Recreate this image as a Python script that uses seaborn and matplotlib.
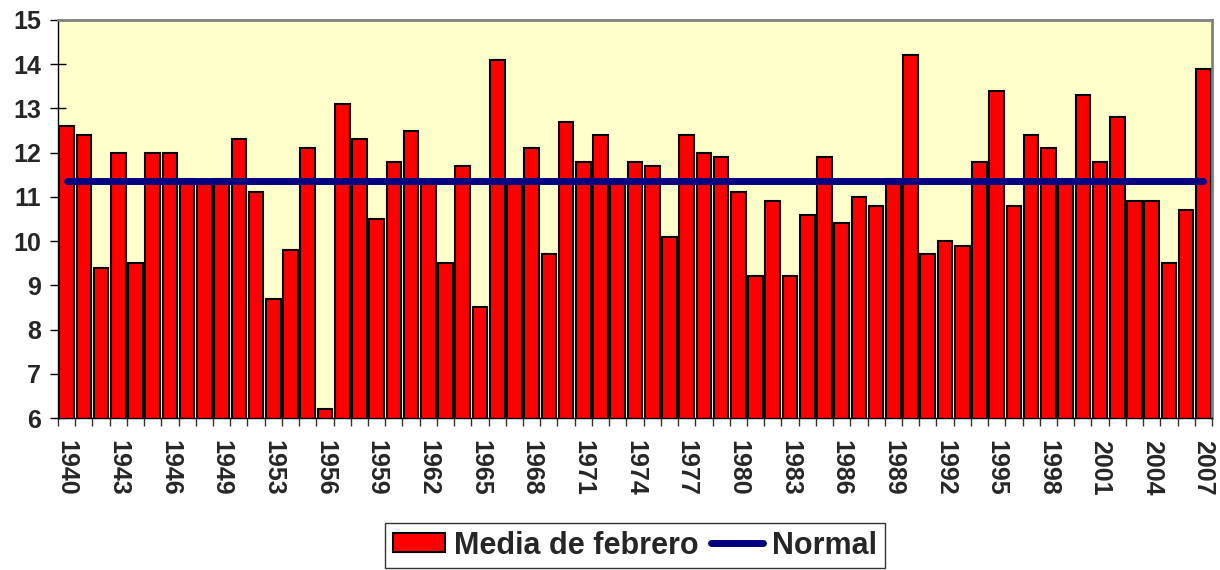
import seaborn as sns
import matplotlib.pyplot as plt
import pandas as pd

# February mean temperature per year (one year missing between 1949 and 1953)
YEARS = [1940, 1941, 1942, 1943, 1944, 1945, 1946, 1947, 1948, 1949,
         1951, 1952, 1953, 1954, 1955, 1956, 1957, 1958, 1959, 1960,
         1961, 1962, 1963, 1964, 1965, 1966, 1967, 1968, 1969, 1970,
         1971, 1972, 1973, 1974, 1975, 1976, 1977, 1978, 1979, 1980,
         1981, 1982, 1983, 1984, 1985, 1986, 1987, 1988, 1989, 1990,
         1991, 1992, 1993, 1994, 1995, 1996, 1997, 1998, 1999, 2000,
         2001, 2002, 2003, 2004, 2005, 2006, 2007]
MEDIA_FEBRERO = [12.6, 12.4, 9.4, 12.0, 9.5, 12.0, 12.0, 11.4, 11.3, 11.4,
                 12.3, 11.1, 8.7, 9.8, 12.1, 6.2, 13.1, 12.3, 10.5, 11.8,
                 12.5, 11.3, 9.5, 11.7, 8.5, 14.1, 11.3, 12.1, 9.7, 12.7,
                 11.8, 12.4, 11.3, 11.8, 11.7, 10.1, 12.4, 12.0, 11.9, 11.1,
                 9.2, 10.9, 9.2, 10.6, 11.9, 10.4, 11.0, 10.8, 11.4, 14.2,
                 9.7, 10.0, 9.9, 11.8, 13.4, 10.8, 12.4, 12.1, 11.3, 13.3,
                 11.8, 12.8, 10.9, 10.9, 9.5, 10.7, 13.9]
NORMAL = 11.35
LABELED_YEARS = [1940, 1943, 1946, 1949, 1953, 1956, 1959, 1962, 1965, 1968,
                 1971, 1974, 1977, 1980, 1983, 1986, 1989, 1992, 1995, 1998,
                 2001, 2004, 2007]

sns.set_theme(style='white')
plt.rcParams['font.family'] = ['Liberation Sans', 'DejaVu Sans']
plt.rcParams['font.weight'] = 'bold'

df = pd.DataFrame({'year': [str(y) for y in YEARS], 'media': MEDIA_FEBRERO})
df['normal'] = NORMAL

fig = plt.figure(figsize=(12.2, 5.7), dpi=100)
ax = fig.add_axes([58 / 1220, 1 - 418 / 570, (1212 - 58) / 1220, (418 - 20) / 570])
ax.set_facecolor('#FFFFCC')

sns.barplot(data=df, x='year', y='media', color='#FF0000', saturation=1,
            edgecolor='black', linewidth=1.5, width=0.85, ax=ax, zorder=2)
line, = ax.plot(range(len(df)), df['normal'], color='#000080', lw=5,
                solid_capstyle='round', zorder=3)

ax.set_ylim(6, 15)
ax.set_xlim(-0.5, len(df) - 0.5)
ax.set_yticks(range(6, 16))
ax.set_xlabel('')
ax.set_ylabel('')

# labels at the category centres, tick marks at the category borders
label_pos = [i for i, y in enumerate(YEARS) if y in LABELED_YEARS]
ax.set_xticks(label_pos)
ax.set_xticklabels([str(YEARS[i]) for i in label_pos], rotation=-90,
                   fontsize=18, fontweight='bold')
ax.set_xticks([i - 0.5 for i in range(len(df) + 1)], minor=True)
ax.tick_params(axis='x', which='major', length=0, pad=16)
ax.tick_params(axis='x', which='minor', length=6, width=1, color='#333333',
               direction='out', bottom=True)
ax.tick_params(axis='y', which='major', length=12, width=1, color='black',
               direction='inout', labelsize=18, pad=6, left=True)
for lbl in ax.get_yticklabels():
    lbl.set_fontweight('bold')

for side in ['top', 'right']:
    ax.spines[side].set_color('#808080')
    ax.spines[side].set_linewidth(2)
for side in ['left', 'bottom']:
    ax.spines[side].set_color('black')
    ax.spines[side].set_linewidth(1)

bars = ax.containers[0]
leg = fig.legend([bars.patches[0], line], ['Media de febrero', 'Normal'],
                 loc='center', bbox_to_anchor=(635 / 1220, 1 - 545.5 / 570),
                 ncol=2, frameon=True, fancybox=False,
                 edgecolor='black', handlelength=1.7, handleheight=0.6,
                 columnspacing=0.4, handletextpad=0.3, borderpad=0.25,
                 borderaxespad=0, prop={'weight': 'bold', 'size': 22})
leg.get_frame().set_linewidth(1)

fig.savefig('out.png', dpi=100)
